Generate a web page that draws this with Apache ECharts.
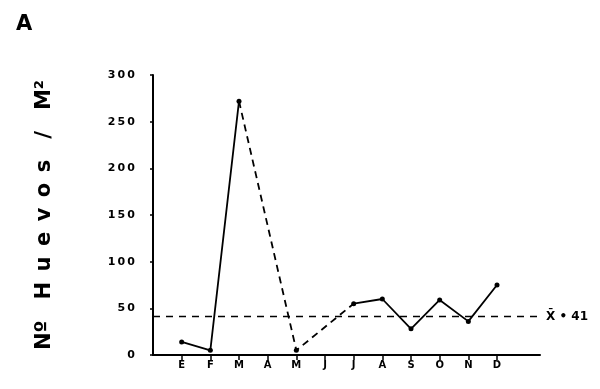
<!DOCTYPE html>
<html><head><meta charset="utf-8">
<script src="https://cdn.jsdelivr.net/npm/echarts@6/dist/echarts.min.js"></script>
<style>html,body{margin:0;padding:0;background:#fff}#c{width:600px;height:389px}</style>
</head><body><div id="c"></div>
<script>
const months = ['E','F','M','A','M','J','J','A','S','O','N','D'];
const eggs = [14, 5, 272, null, 5, null, 55, 60, 28, 59, 36, 75];
const dashedIdx = [2, 4, 6];
const meanValue = 41;
const meanLabel = 'X\u0304 \u2022 41';
const yTicks = [0, 50, 100, 150, 200, 250, 300];

const solidData = months.map((m, i) => [i + 1, eggs[i]]);
const dashData = months.map((m, i) => [i + 1, dashedIdx.includes(i) ? eggs[i] : null]);
const monthPos = months.map((m, i) => i + 1);

const chart = echarts.init(document.getElementById('c'));
chart.setOption({
  animation: false,
  backgroundColor: '#fff',
  grid: { left: 153, right: 60, top: 75, bottom: 34 },
  xAxis: {
    type: 'value', min: 0, max: 13.5, interval: 1,
    splitLine: { show: false },
    axisLine: { lineStyle: { color: '#000', width: 2 } },
    axisTick: { lineStyle: { color: '#000', width: 1.5 }, length: 5, customValues: monthPos },
    axisLabel: {
      color: '#000', fontWeight: 'bold', fontSize: 10, fontFamily: 'DejaVu Sans', margin: 5,
      customValues: monthPos,
      formatter: v => months[Math.round(v) - 1] || ''
    }
  },
  yAxis: {
    type: 'value', min: 0, max: 300, interval: 50,
    splitLine: { show: false },
    axisLine: { show: true, lineStyle: { color: '#000', width: 2 } },
    axisTick: { show: true, lineStyle: { color: '#000', width: 1.5 }, length: 3 },
    axisLabel: { color: '#000', fontSize: 11, fontWeight: 'bold', fontFamily: 'DejaVu Sans', margin: 18,
      formatter: v => yTicks.includes(v) ? String(v).split('').join('\u2009') : '' }
  },
  graphic: [
    { type: 'text', left: 16, top: 14, style: { text: 'A', font: 'bold 21px DejaVu Sans', fill: '#000' } },
    { type: 'text', x: 45, y: 215, rotation: Math.PI / 2,
      style: { text: 'N\u00BA\u2002\u2002H\u2002u\u2002e\u2002v\u2002o\u2002s\u2002\u2002/\u2002\u2002M\u00B2', font: 'bold 21px DejaVu Sans', fill: '#000', align: 'center', verticalAlign: 'middle' } }
  ],
  series: [
    {
      type: 'line', data: solidData, connectNulls: false,
      symbol: 'circle', symbolSize: 5,
      itemStyle: { color: '#000' },
      lineStyle: { color: '#000', width: 1.8 },
      markLine: {
        silent: true, symbol: 'none',
        lineStyle: { color: '#000', type: [7, 6], width: 1.3 },
        label: { show: true, position: 'end', formatter: meanLabel, color: '#000', fontWeight: 'bold', fontSize: 12, fontFamily: 'DejaVu Sans', distance: 6 },
        data: [{ yAxis: meanValue }]
      }
    },
    {
      type: 'line', data: dashData, connectNulls: true,
      symbol: 'none',
      lineStyle: { color: '#000', width: 1.8, type: [7, 5] }
    }
  ]
});
</script></body></html>
